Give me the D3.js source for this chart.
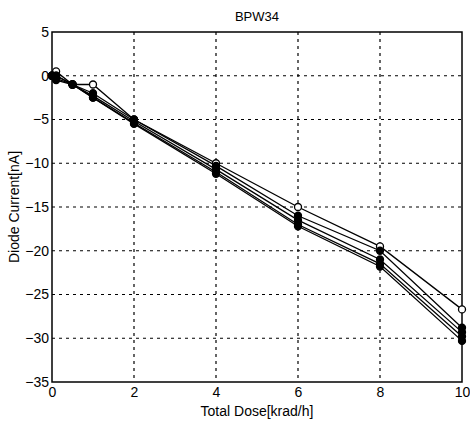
<!DOCTYPE html>
<html>
<head>
  <meta charset="UTF-8">
  <style>
    body { margin: 0; background: #fff; }
    text { font-family: "Liberation Sans", Arial, sans-serif; fill: #000; }
  </style>
  <script src="https://d3js.org/d3.v7.min.js"></script>
</head>
<body>
<svg id="chart" width="470" height="431"></svg>
<script>
  // dose points (krad/h)
  const dose = [0, 0.1, 0.5, 1, 2, 4, 6, 8, 10];

  // diode current per sample (nA)
  const sample1 = [0, 0.5, -1, -1, -5, -10, -15, -19.5, -26.7];
  const sample2 = [0, 0, -1, -2, -5, -10.3, -16, -20, -28.8];
  const sample3 = [0, 0, -1, -2.3, -5.2, -10.7, -16.5, -21, -29.3];
  const sample4 = [0, -0.3, -1, -2.5, -5.4, -11, -17, -21.5, -29.8];
  const sample5 = [0, -0.5, -1, -2.5, -5.5, -11.2, -17.2, -21.8, -30.3];

  const xTicks = [0, 2, 4, 6, 8, 10];
  const yTicks = [5, 0, -5, -10, -15, -20, -25, -30, -35];

  // open-marker sample drawn first so the filled ones sit on top
  const series = [
    { vals: sample1, open: true },
    { vals: sample2, open: false },
    { vals: sample3, open: false },
    { vals: sample4, open: false },
    { vals: sample5, open: false }
  ];

  const mLeft = 52, mRight = 462, mTop = 32, mBottom = 382;
  const svg = d3.select("#chart");

  let x = d3.scaleLinear().domain([0, 10]).range([mLeft, mRight]);
  let y = d3.scaleLinear().domain([-35, 5]).range([mBottom, mTop]);

  // grid
  let grid = svg.append("g");
  grid.selectAll(".vg")
    .data(xTicks.slice(1, -1))
    .enter().append("line")
    .attr("x1", d => x(d)).attr("x2", d => x(d))
    .attr("y1", mTop).attr("y2", mBottom)
    .attr("stroke", "#000").attr("stroke-width", 1.2)
    .attr("stroke-dasharray", "3,4");
  grid.selectAll(".hg")
    .data(yTicks.slice(1, -1))
    .enter().append("line")
    .attr("y1", d => y(d)).attr("y2", d => y(d))
    .attr("x1", mLeft).attr("x2", mRight)
    .attr("stroke", "#000").attr("stroke-width", 1.2)
    .attr("stroke-dasharray", "3,4");

  // frame
  svg.append("rect")
    .attr("x", mLeft).attr("y", mTop)
    .attr("width", mRight - mLeft).attr("height", mBottom - mTop)
    .attr("fill", "none").attr("stroke", "#000").attr("stroke-width", 1.5);

  // axes
  let xAxis = svg.append("g")
    .attr("transform", "translate(0," + mBottom + ")")
    .call(d3.axisBottom(x).tickValues(xTicks).tickSize(0).tickPadding(5));
  let yAxis = svg.append("g")
    .attr("transform", "translate(" + mLeft + ",0)")
    .call(d3.axisLeft(y).tickValues(yTicks).tickSize(0).tickPadding(3));
  [xAxis, yAxis].forEach(a => {
    a.select(".domain").remove();
    a.selectAll("text").style("font-size", "14px")
      .style("font-family", "'Liberation Sans', Arial, sans-serif");
  });

  let line = d3.line()
    .x((d, i) => x(dose[i]))
    .y(d => y(d));

  series.forEach(s => {
    svg.append("path")
      .datum(s.vals)
      .attr("d", line)
      .attr("fill", "none")
      .attr("stroke", "#000")
      .attr("stroke-width", 1.3);
  });

  series.forEach(s => {
    svg.append("g").selectAll("circle")
      .data(s.vals)
      .enter().append("circle")
      .attr("cx", (d, i) => x(dose[i]))
      .attr("cy", d => y(d))
      .attr("r", 3.5)
      .attr("fill", s.open ? "#fff" : "#000")
      .attr("stroke", "#000")
      .attr("stroke-width", 1.3);
  });

  // titles
  svg.append("text")
    .attr("x", (mLeft + mRight) / 2).attr("y", 21)
    .attr("text-anchor", "middle")
    .style("font-size", "13px")
    .text("BPW34");
  svg.append("text")
    .attr("x", (mLeft + mRight) / 2).attr("y", 416)
    .attr("text-anchor", "middle")
    .style("font-size", "14px")
    .text("Total Dose[krad/h]");
  svg.append("text")
    .attr("transform", "translate(19," + ((mTop + mBottom) / 2) + ") rotate(-90)")
    .attr("text-anchor", "middle")
    .style("font-size", "14px")
    .text("Diode Current[nA]");
</script>
</body>
</html>
